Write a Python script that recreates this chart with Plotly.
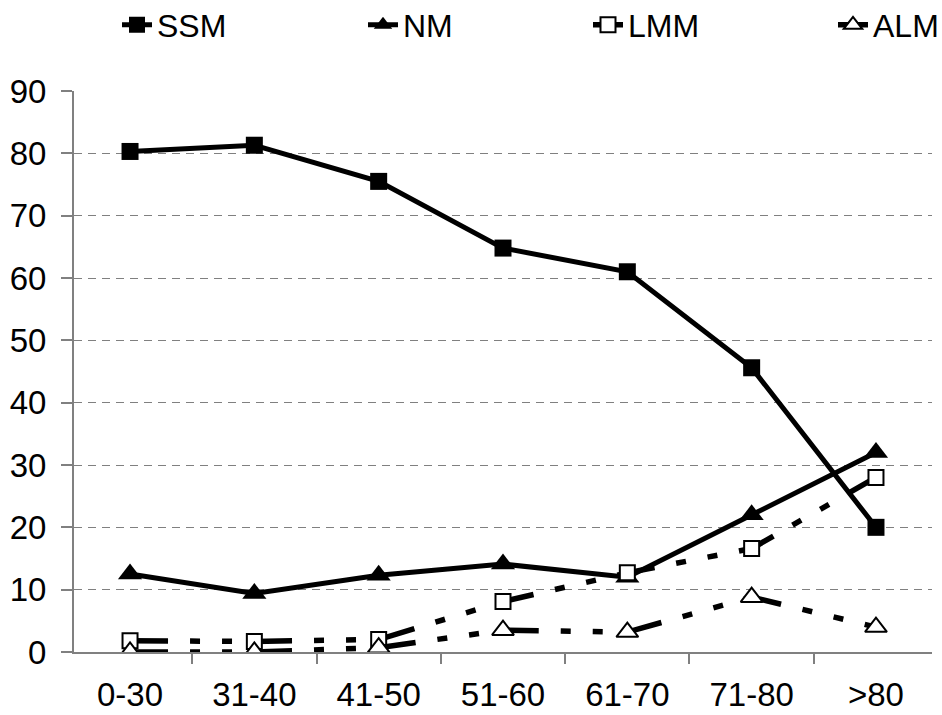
import plotly.graph_objects as go

categories = ["0-30", "31-40", "41-50", "51-60", "61-70", "71-80", ">80"]
ssm = [80.3, 81.3, 75.5, 64.8, 61.0, 45.6, 20.0]
nm = [12.5, 9.4, 12.3, 14.1, 12.0, 22.0, 32.0]
lmm = [1.8, 1.7, 2.0, 8.1, 12.7, 16.6, 28.0]
alm = [0.0, 0.0, 0.7, 3.5, 3.2, 8.8, 4.0]
y_ticks = [0, 10, 20, 30, 40, 50, 60, 70, 80, 90]

FONT = "Liberation Sans, Arial, sans-serif"
dash_pat = "38px,22px,10px,22px,10px,22px"

fig = go.Figure()
fig.add_trace(go.Scatter(
    x=categories, y=ssm, name="SSM", mode="lines+markers",
    line=dict(color="black", width=5),
    marker=dict(symbol="square", size=17, color="black"),
    legend="legend"))
fig.add_trace(go.Scatter(
    x=categories, y=nm, name="NM", mode="lines+markers",
    line=dict(color="black", width=5),
    marker=dict(symbol="triangle-up", size=21, color="black"),
    legend="legend2"))
fig.add_trace(go.Scatter(
    x=categories, y=lmm, name="LMM", mode="lines+markers",
    line=dict(color="black", width=5.5, dash=dash_pat),
    marker=dict(symbol="square", size=15, color="white",
                line=dict(color="black", width=2)),
    legend="legend3"))
fig.add_trace(go.Scatter(
    x=categories, y=alm, name="ALM", mode="lines+markers",
    line=dict(color="black", width=5.5, dash=dash_pat),
    marker=dict(symbol="triangle-up", size=19, color="white",
                line=dict(color="black", width=2)),
    legend="legend4"))

L, R, T, B = 74, 10, 91, 63
W, H = 942, 715

def lx(px):
    return px / W

ly = 1 - 25 / H
leg_common = dict(orientation="h", yanchor="middle", y=ly, xanchor="left",
                  xref="container", yref="container",
                  font=dict(family=FONT, size=32, color="black"),
                  bgcolor="rgba(0,0,0,0)", borderwidth=0)

fig.update_layout(
    width=W, height=H,
    margin=dict(l=L, r=R, t=T, b=B, autoexpand=False),
    paper_bgcolor="white", plot_bgcolor="white",
    font=dict(family=FONT, size=33, color="black"),
    showlegend=True,
    legend=dict(x=lx(117), **leg_common),
    legend2=dict(x=lx(363), **leg_common),
    legend3=dict(x=lx(588), **leg_common),
    legend4=dict(x=lx(833), **leg_common),
    xaxis=dict(
        type="category", categoryorder="array", categoryarray=categories,
        tickson="boundaries", ticks="outside", ticklen=10, tickwidth=1.5,
        tickcolor="#808080", showline=True, linecolor="#808080", linewidth=2,
        showgrid=False, zeroline=False, ticklabelstandoff=12,
        tickfont=dict(family=FONT, size=33, color="black"),
        automargin=False),
    yaxis=dict(
        range=[0, 90], tickvals=y_ticks, ticks="outside", ticklen=11,
        tickwidth=1.5, tickcolor="#808080", showline=True,
        linecolor="#808080", linewidth=2, showgrid=True,
        gridcolor="#808080", gridwidth=1, griddash="8px,6px",
        zeroline=False, ticklabelstandoff=8,
        tickfont=dict(family=FONT, size=33, color="black"),
        automargin=False),
)

fig.write_html("out.html")
